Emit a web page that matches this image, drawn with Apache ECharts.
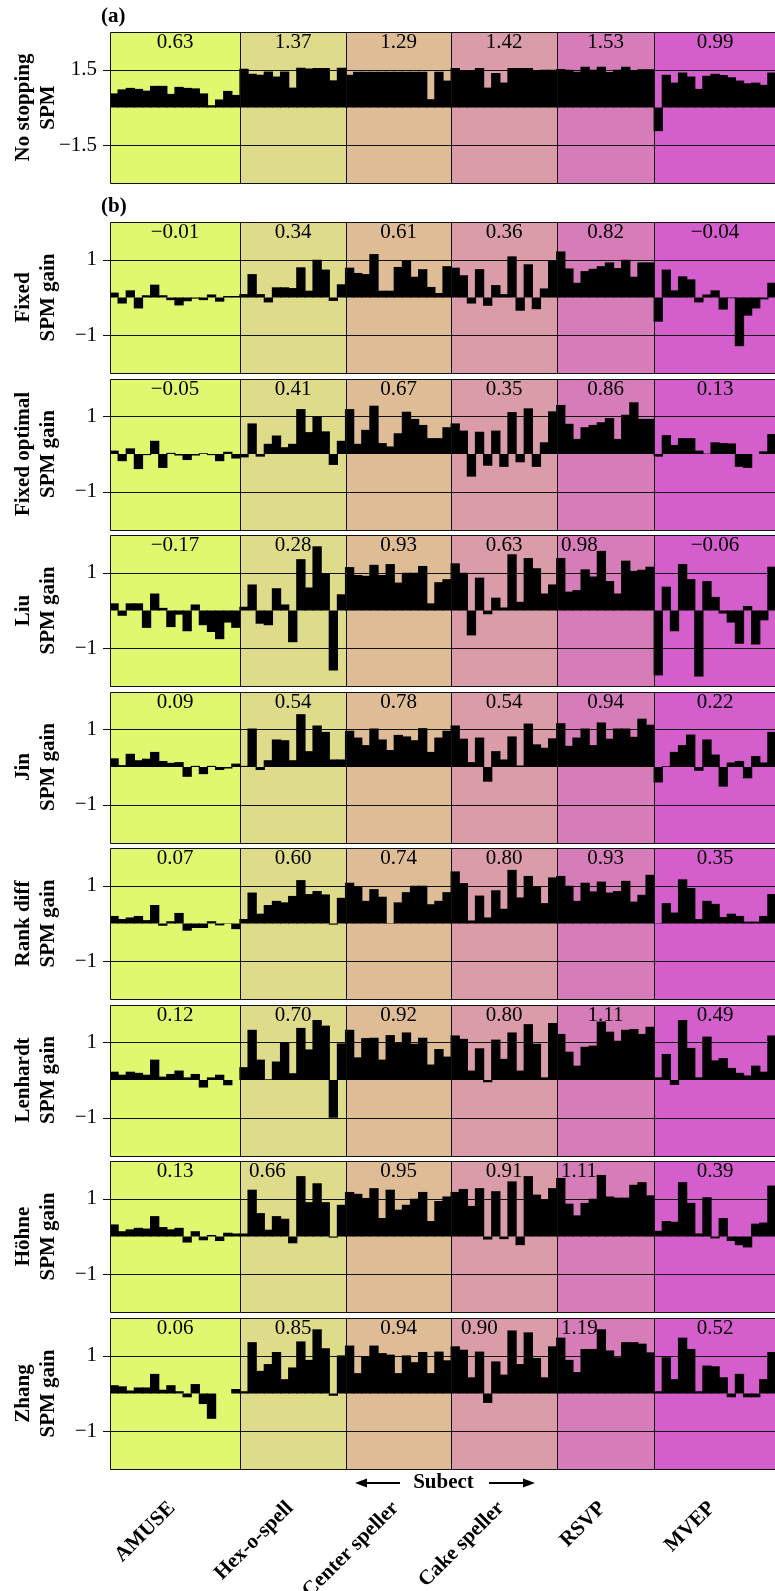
<!DOCTYPE html>
<html><head><meta charset="utf-8">
<script src="https://cdn.jsdelivr.net/npm/echarts@6/dist/echarts.min.js"></script>
<style>html,body{margin:0;padding:0;overflow:hidden;background:#fff;width:775px;height:1591px}
#c{width:790px;height:1591px}</style></head>
<body><div id="c"></div><script>
// ---------------- DATA ----------------
const groupNames = ['AMUSE', 'Hex-o-spell', 'Center speller', 'Cake speller', 'RSVP', 'MVEP'];
const groupSizes = [16, 13, 13, 13, 12, 15];
const panelTitles = [
  ['No stopping', 'SPM'], ['Fixed', 'SPM gain'], ['Fixed optimal', 'SPM gain'],
  ['Liu', 'SPM gain'], ['Jin', 'SPM gain'], ['Rank diff', 'SPM gain'],
  ['Lenhardt', 'SPM gain'], ['Höhne', 'SPM gain'], ['Zhang', 'SPM gain']
];
const yTicksSPM = [-1.5, 1.5];
const yTicksGain = [-1, 1];

const spmNoStopping = [
  0.56,0.72,0.78,0.74,0.67,0.86,0.86,0.54,0.82,0.78,0.76,0.56,0.09,0.32,0.66,0.50,
  1.54,1.34,1.30,1.43,1.23,1.43,0.79,1.58,1.55,1.57,1.57,1.08,1.58,
  1.30,1.42,1.42,1.42,1.42,1.42,1.42,1.42,1.42,1.42,0.33,1.42,1.07,
  1.57,1.47,1.47,1.57,0.79,1.37,0.99,1.57,1.57,1.57,1.47,1.50,1.50,
  1.53,1.50,1.42,1.62,1.50,1.62,1.41,1.50,1.62,1.49,1.52,1.52,
  -0.94,1.30,0.99,1.39,1.23,0.74,1.26,1.34,1.29,1.20,1.07,0.96,0.99,0.90,1.39
];
const gainFixed = [
  0.13,-0.16,0.19,-0.29,0.06,0.34,0.06,-0.07,-0.21,-0.10,-0.03,-0.07,0.08,-0.11,0.04,0.04,
  0.09,0.62,0.09,-0.13,0.27,0.27,0.25,0.80,0.18,1.00,0.74,-0.09,0.35,
  0.79,0.65,0.62,1.15,0.18,0.18,0.81,0.99,0.55,0.75,0.28,0.12,0.83,
  0.79,0.59,-0.16,0.75,-0.22,0.33,0.09,1.09,-0.35,0.88,-0.31,0.24,0.97,
  1.22,0.77,0.39,0.70,0.76,0.83,0.93,0.78,1.00,0.55,0.93,0.93,
  -0.64,0.74,0.19,0.56,0.48,-0.13,0.08,0.19,-0.32,-0.02,-1.29,-0.48,-0.29,-0.05,0.39
];
const gainFixedOptimal = [
  0.09,-0.19,0.15,-0.40,-0.03,0.35,-0.37,0.03,-0.04,-0.16,-0.04,0.02,-0.03,-0.19,0.06,-0.12,
  -0.09,0.81,-0.07,0.27,0.49,0.18,0.27,1.19,0.58,0.99,0.60,-0.29,0.35,
  1.19,0.27,0.64,1.28,0.29,0.20,0.55,1.12,0.93,0.77,0.42,0.42,0.71,
  0.81,0.62,-0.60,0.59,-0.31,0.62,-0.34,1.11,-0.22,1.21,-0.34,0.31,1.13,
  1.30,0.80,0.40,0.71,0.77,0.84,0.95,0.40,1.04,1.37,0.93,0.93,
  -0.07,0.50,0.24,0.42,0.42,0.09,0.01,0.31,0.29,0.28,-0.34,-0.37,0.00,0.07,0.53
];
const gainLiu = [
  0.19,-0.14,0.19,0.19,-0.46,0.45,0.07,-0.44,-0.11,-0.55,0.16,-0.39,-0.57,-0.76,-0.32,-0.46,
  0.10,0.69,-0.35,-0.39,0.59,0.16,-0.84,1.36,0.61,1.70,0.99,-1.59,0.43,
  1.15,0.94,0.92,1.21,0.94,1.23,0.74,1.00,1.00,1.18,0.19,0.75,0.83,
  1.25,1.00,-0.66,0.87,-0.10,0.34,0.08,1.49,0.23,1.39,1.12,0.45,0.69,
  1.39,0.50,0.54,1.09,0.90,1.58,0.78,0.45,1.32,1.05,1.08,1.16,
  -1.72,0.63,-0.55,1.23,0.83,-1.75,0.78,0.36,-0.08,-0.32,-0.88,0.12,-0.90,-0.26,1.16
];
const gainJin = [
  0.23,0.05,0.35,0.18,0.22,0.40,0.16,0.11,0.13,-0.26,0.03,-0.19,0.03,-0.08,-0.04,0.09,
  0.03,1.02,-0.08,0.18,0.73,0.71,0.18,1.40,0.42,1.10,0.93,0.20,0.20,
  0.96,0.78,0.58,1.02,0.73,0.45,0.85,0.81,0.71,1.03,0.40,0.78,0.96,
  1.10,0.75,0.13,0.78,-0.39,0.42,0.20,0.81,0.04,1.15,0.60,0.51,0.76,
  1.16,0.56,0.78,1.02,0.58,1.18,0.75,1.02,1.02,0.80,1.28,1.12,
  -0.41,0.02,0.40,0.58,0.86,-0.10,0.73,0.33,-0.52,0.12,0.16,-0.30,0.29,0.12,0.93
];
const gainRankDiff = [
  0.20,0.12,0.16,0.20,0.09,0.49,-0.06,0.06,0.28,-0.19,-0.12,-0.12,0.06,-0.05,0.01,-0.15,
  0.12,0.82,0.26,0.49,0.60,0.56,0.73,1.15,0.78,0.86,0.77,-0.03,0.68,
  1.08,0.97,0.60,0.91,0.71,0.01,0.56,0.83,1.00,1.00,0.51,0.60,0.83,
  1.38,1.07,0.08,0.74,0.16,0.88,0.39,1.42,0.69,1.26,0.97,0.54,1.22,
  1.26,1.00,0.60,1.08,0.85,1.11,0.82,0.86,1.13,0.58,0.76,1.29,
  0.01,0.54,0.29,1.17,0.94,0.12,0.60,0.52,0.17,0.26,0.20,0.05,0.05,0.20,0.78
];
const gainLenhardt = [
  0.22,0.14,0.22,0.19,0.14,0.54,0.09,0.16,0.25,0.07,0.16,-0.20,0.07,0.14,-0.14,0.00,
  0.34,1.33,0.54,0.02,0.49,1.00,0.18,1.38,0.81,1.59,1.44,-1.00,0.97,
  1.33,0.60,1.11,1.12,0.54,1.19,0.98,1.26,0.96,1.12,0.41,0.82,0.62,
  1.18,1.09,0.25,0.84,-0.06,1.07,0.56,1.26,0.25,1.48,0.96,0.07,1.51,
  1.22,0.75,0.38,0.88,0.91,1.55,1.28,1.04,1.33,1.35,1.22,1.41,
  0.07,0.69,-0.13,1.59,0.85,0.07,1.15,0.52,0.58,0.32,0.19,0.12,0.38,0.22,1.18
];
const gainHohne = [
  0.32,0.14,0.19,0.23,0.21,0.54,0.25,0.19,0.23,-0.16,0.14,-0.10,0.04,-0.12,0.10,0.08,
  0.08,1.24,0.62,0.18,0.54,0.47,-0.18,1.60,0.91,1.41,0.91,-0.03,0.84,
  1.18,1.13,1.02,1.28,0.49,1.24,0.71,0.84,1.00,1.18,0.41,0.94,1.06,
  1.18,1.26,0.81,1.28,-0.08,1.20,-0.07,1.46,-0.23,1.60,1.11,0.97,1.28,
  1.55,0.87,0.56,0.89,1.00,1.63,1.06,1.03,1.03,1.37,1.44,1.09,
  0.15,0.41,0.39,1.44,0.89,0.08,1.04,-0.05,0.49,-0.12,-0.23,-0.29,0.34,0.37,1.35
];
const gainZhang = [
  0.22,0.19,0.08,0.16,0.16,0.52,0.10,0.22,0.06,-0.10,0.25,-0.28,-0.67,0.00,0.00,0.12,
  0.06,1.36,0.60,0.78,1.10,0.38,0.69,1.38,0.89,1.70,1.20,-0.06,1.01,
  1.27,0.54,0.98,1.27,1.07,1.03,0.54,1.01,0.83,1.10,0.54,1.11,0.88,
  1.25,1.16,0.43,1.11,-0.25,0.85,0.50,1.67,0.78,1.62,0.94,0.43,1.25,
  1.48,0.89,0.57,1.18,1.18,1.70,1.14,0.96,1.36,1.36,1.32,1.09,
  0.06,0.96,0.38,1.48,1.18,0.06,0.74,0.72,0.43,-0.10,0.52,-0.10,-0.10,0.38,1.10
];

const meanNoStopping = [0.63, 1.37, 1.29, 1.42, 1.53, 0.99];
const meanFixed = [-0.01, 0.34, 0.61, 0.36, 0.82, -0.04];
const meanFixedOptimal = [-0.05, 0.41, 0.67, 0.35, 0.86, 0.13];
const meanLiu = [-0.17, 0.28, 0.93, 0.63, 0.98, -0.06];
const meanJin = [0.09, 0.54, 0.78, 0.54, 0.94, 0.22];
const meanRankDiff = [0.07, 0.60, 0.74, 0.80, 0.93, 0.35];
const meanLenhardt = [0.12, 0.70, 0.92, 0.80, 1.11, 0.49];
const meanHohne = [0.13, 0.66, 0.95, 0.91, 1.11, 0.39];
const meanZhang = [0.06, 0.85, 0.94, 0.90, 1.19, 0.52];

const panelValues = [spmNoStopping, gainFixed, gainFixedOptimal, gainLiu, gainJin, gainRankDiff, gainLenhardt, gainHohne, gainZhang];
const panelMeans = [meanNoStopping, meanFixed, meanFixedOptimal, meanLiu, meanJin, meanRankDiff, meanLenhardt, meanHohne, meanZhang];

// ---------------- LAYOUT / STYLE ----------------
const GROUP_COLORS = ['#e0f870', '#dedb8a', '#debc96', '#da9ca8', '#d67cb9', '#d45ecc'];
const SERIF = '"Liberation Serif", "Times New Roman", Times, serif';
const PLOT_LEFT = 110, PLOT_W = 666, PANEL_H = 151;
const PANEL_TOPS = [32, 222, 378.5, 535, 691.5, 848, 1004.5, 1161, 1318];
// mean labels drawn left-aligned (panel -> {group: padding px})
const LABEL_LEFT = {3: {4: 4}, 7: {1: 9, 4: 4}, 8: {3: 10, 4: 4}};
const LINE_COLOR = '#111';

const nSubj = groupSizes.reduce((a, b) => a + b, 0);
const groupSpans = [];
(function () { let s = 0; groupSizes.forEach((n, g) => { groupSpans.push([s, s + n, g]); s += n; }); })();
const cats = Array.from({length: nSubj}, (_, i) => String(i + 1));
const fmt = v => v.toFixed(2).replace('-', '\u2212');
const fmtTick = v => String(v).replace('-', '\u2212');

const grids = [], xAxes = [], yAxes = [], series = [];
const lastPanel = panelValues.length - 1;

panelValues.forEach((vals, k) => {
  const yr = k === 0 ? [-3, 3] : [-2, 2];
  const ticks = k === 0 ? yTicksSPM : yTicksGain;
  grids.push({left: PLOT_LEFT, top: PANEL_TOPS[k], width: PLOT_W, height: PANEL_H, containLabel: false});
  xAxes.push({gridIndex: k, type: 'category', data: cats, show: false, boundaryGap: true});
  xAxes.push({gridIndex: k, type: 'value', min: 0, max: nSubj, show: false});
  yAxes.push({
    gridIndex: k, type: 'value', min: yr[0], max: yr[1], interval: k === 0 ? 1.5 : 1,
    axisLine: {show: false}, axisTick: {show: false}, splitLine: {show: false},
    axisLabel: {margin: 13, color: '#000', fontFamily: SERIF, fontSize: 21,
      formatter: v => ticks.some(t => Math.abs(t - v) < 1e-9) ? fmtTick(v) : ''}
  });
  // background rects + gridlines
  series.push({
    type: 'custom', xAxisIndex: 2 * k + 1, yAxisIndex: k, z: 1, silent: true, clip: false,
    encode: {x: [0, 1], y: 2},
    data: groupSpans,
    renderItem: (params, api) => {
      const s = api.value(0), e = api.value(1), g = api.value(2);
      const tl = api.coord([s, yr[1]]), br = api.coord([e, yr[0]]);
      const x0 = Math.round(tl[0]), x1 = Math.round(br[0]), y0 = Math.round(tl[1]), y1 = Math.round(br[1]);
      const ch = [{type: 'rect', shape: {x: x0, y: y0, width: x1 - x0, height: y1 - y0}, style: {fill: GROUP_COLORS[g]}}];
      ticks.forEach(t => {
        const y = Math.round(api.coord([s, t])[1]) + 0.5;
        ch.push({type: 'line', shape: {x1: g === 0 ? x0 - 7 : x0, y1: y, x2: x1, y2: y}, style: {stroke: LINE_COLOR, lineWidth: 1}});
      });
      return {type: 'group', children: ch};
    }
  });
  // bars (slightly wider than the band so neighbours merge without seams)
  series.push({
    type: 'bar', xAxisIndex: 2 * k, yAxisIndex: k, z: 2, data: vals,
    barWidth: '115%', barGap: '0%', silent: true,
    itemStyle: {color: '#000'}
  });
  // frame + mean labels (+ group names on last panel)
  series.push({
    type: 'custom', xAxisIndex: 2 * k + 1, yAxisIndex: k, z: 3, silent: true, clip: false,
    encode: {x: [0, 1], y: 2},
    data: groupSpans,
    renderItem: (params, api) => {
      const s = api.value(0), e = api.value(1), g = api.value(2);
      const tl = api.coord([s, yr[1]]), br = api.coord([e, yr[0]]);
      const x0 = Math.round(tl[0]), x1 = Math.round(br[0]), y0 = Math.round(tl[1]), y1 = Math.round(br[1]);
      const ch = [{type: 'rect', shape: {x: x0 + 0.5, y: y0 + 0.5, width: x1 - x0, height: y1 - y0},
        style: {fill: 'none', stroke: LINE_COLOR, lineWidth: 1}}];
      const ov = LABEL_LEFT[k] && LABEL_LEFT[k][g];
      ch.push({type: 'text', x: ov !== undefined ? x0 + ov : (x0 + x1) / 2, y: y0 + 10.5,
        style: {text: fmt(panelMeans[k][g]), fill: '#000', fontFamily: SERIF, fontSize: 21,
          align: ov !== undefined ? 'left' : 'center', verticalAlign: 'middle'}});
      if (k === lastPanel) {
        ch.push({type: 'text', x: (x0 + x1) / 2 - 3, y: y1 + 36, rotation: Math.PI / 4,
          style: {text: groupNames[g], fill: '#000', fontFamily: SERIF, fontSize: 21, fontWeight: 'bold',
            align: 'right', verticalAlign: 'middle'}});
      }
      return {type: 'group', children: ch};
    }
  });
});

const boldFont = 'bold 21px ' + SERIF;
const graphics = [
  {type: 'text', x: 101, y: 17, style: {text: '(a)', font: boldFont, fill: '#000', align: 'left', verticalAlign: 'middle'}},
  {type: 'text', x: 101, y: 207, style: {text: '(b)', font: boldFont, fill: '#000', align: 'left', verticalAlign: 'middle'}},
  {type: 'text', x: 443.5, y: 1483, style: {text: 'Subect', font: boldFont, fill: '#000', align: 'center', verticalAlign: 'middle'}},
  {type: 'line', shape: {x1: 400, y1: 1483, x2: 364, y2: 1483}, style: {stroke: '#000', lineWidth: 2}},
  {type: 'polygon', shape: {points: [[355, 1483], [367, 1478.5], [367, 1487.5]]}, style: {fill: '#000'}},
  {type: 'line', shape: {x1: 489, y1: 1483, x2: 526, y2: 1483}, style: {stroke: '#000', lineWidth: 2}},
  {type: 'polygon', shape: {points: [[535, 1483], [523, 1478.5], [523, 1487.5]]}, style: {fill: '#000'}}
];
panelTitles.forEach((lines, k) => {
  graphics.push({type: 'text', x: 36, y: PANEL_TOPS[k] + PANEL_H / 2, rotation: Math.PI / 2,
    style: {text: lines.join('\n'), font: boldFont, fill: '#000', align: 'center', verticalAlign: 'middle', lineHeight: 25}});
});

const chart = echarts.init(document.getElementById('c'), null, {renderer: 'canvas'});
chart.setOption({
  animation: false,
  backgroundColor: '#fff',
  grid: grids, xAxis: xAxes, yAxis: yAxes, series: series,
  graphic: graphics
});
</script></body></html>
